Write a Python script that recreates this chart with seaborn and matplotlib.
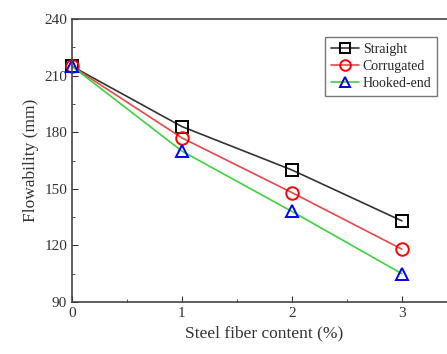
import seaborn as sns
import matplotlib.pyplot as plt
import pandas as pd
from matplotlib.ticker import MultipleLocator, NullFormatter

content = [0, 1, 2, 3]
straight = [215, 183, 160, 133]
corrugated = [215, 177, 148, 118]
hooked = [215, 170, 138, 105]

df = pd.DataFrame({
    "content": content * 3,
    "flow": straight + corrugated + hooked,
    "type": ["Straight"] * 4 + ["Corrugated"] * 4 + ["Hooked-end"] * 4,
})

sns.set_style("ticks")
plt.rcParams["font.family"] = ["Liberation Serif", "DejaVu Serif"]

fig = plt.figure(figsize=(4.47, 3.54), dpi=100)
ax = fig.add_axes([0.161, 0.147, 0.861, 0.799])

line_colors = {"Straight": "#333333", "Corrugated": "#e8474a", "Hooked-end": "#3ed23e"}
marker_colors = {"Straight": "black", "Corrugated": "red", "Hooked-end": "blue"}
markers = {"Straight": "s", "Corrugated": "o", "Hooked-end": "^"}

for name in ["Straight", "Corrugated", "Hooked-end"]:
    sub = df[df["type"] == name]
    sns.lineplot(data=sub, x="content", y="flow", ax=ax, color=line_colors[name],
                 linewidth=1.2, marker=markers[name], markersize=9,
                 markerfacecolor="none", markeredgecolor=marker_colors[name],
                 markeredgewidth=1.4, label=name, clip_on=False)

ax.set_xlim(0, 3.5)
ax.set_ylim(90, 240)
ax.set_xticks(content)
ax.set_xticklabels([str(c) for c in content])
ax.xaxis.set_minor_locator(MultipleLocator(0.5))
ax.xaxis.set_minor_formatter(NullFormatter())
ax.yaxis.set_major_locator(MultipleLocator(30))
ax.yaxis.set_minor_locator(MultipleLocator(15))
ax.tick_params(which="both", direction="in", labelsize=11, colors="#333333")
ax.tick_params(which="major", length=4)
ax.tick_params(which="minor", length=2.5)
for s in ax.spines.values():
    s.set_color("#444444")
    s.set_linewidth(1.2)

ax.set_xlabel("Steel fiber content (%)", fontsize=12.5, color="#333333")
ax.set_ylabel("Flowability (mm)", fontsize=12.5, color="#333333")

leg = ax.legend(loc="upper left", bbox_to_anchor=(0.64, 0.961), fontsize=10,
                frameon=True, fancybox=False, edgecolor="#555555",
                handlelength=2.0, borderpad=0.4, labelspacing=0.3, handletextpad=0.3,
                markerscale=0.85)
leg.get_frame().set_linewidth(1.0)

fig.savefig("out.png", dpi=100)
